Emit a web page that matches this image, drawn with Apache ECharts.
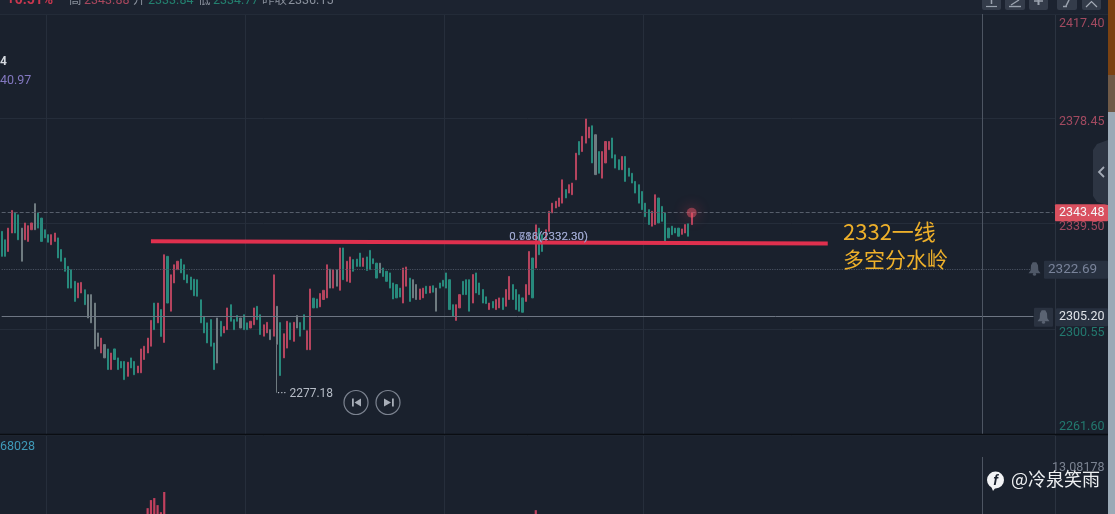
<!DOCTYPE html>
<html><head><meta charset="utf-8">
<style>html,body{margin:0;padding:0;background:#1a212d;overflow:hidden}#c{width:1115px;height:514px;filter:blur(0.4px)}</style>
<script src="https://cdn.jsdelivr.net/npm/echarts@6/dist/echarts.min.js"></script>
</head><body><div id="c"></div>
<script>
const highs = [
2336.6,2333.5,2337.8,2344.3,2343.6,2342.7,2337.8,2339.7,2338.7,2339.7,
2346.8,2343.4,2341.5,2337.2,2335.4,2335.4,2336,2334.2,2329.9,2326.8,
2323.7,2322.5,2318.2,2317.6,2317.8,2315.1,2313.3,2313.3,2310.2,2299.2,
2297.3,2294.9,2293.3,2291.8,2293.3,2290,2288.7,2288.7,2288.4,2290,
2288.7,2287,2293.3,2294.3,2297.3,2303.8,2310.2,2310.2,2307.8,2328,
2327.4,2320.6,2324.3,2325.6,2326.4,2324.3,2320.6,2319.8,2319,2318.8,
2311.4,2305.3,2302.9,2304.1,2295.5,2304.7,2303.5,2301.6,2308.4,2309.6,
2304.1,2305.6,2304.7,2305.9,2302.9,2303.5,2308.4,2309,2305.9,2302.2,
2303.1,2300.4,2320.6,2309,2303,2298.9,2303.5,2302.9,2303.1,2305.6,
2303,2305.9,2300,2315.4,2312,2311.7,2313.7,2314.9,2324.3,2322.7,
2322.5,2322.5,2330.5,2330.5,2325.6,2327.2,2326.2,2326.4,2328.6,2326.8,
2327.2,2329.6,2326.5,2324.9,2324.9,2323.1,2321.9,2321.3,2317.6,2317,
2315.7,2323.1,2323.5,2319.4,2318.8,2317,2315.4,2315.7,2316.4,2316.4,
2316.6,2315.7,2317.6,2318.6,2321.3,2318.8,2309.6,2309.6,2313.3,2318.2,
2318.8,2318.8,2320.7,2321.3,2317.6,2315.2,2312.5,2310.2,2310.8,2311.5,
2312.1,2312.1,2315.2,2320,2317,2315.2,2313.3,2312.1,2317,2329.2,
2326.8,2339,2337.8,2335.4,2337.2,2344,2347,2347.7,2348.9,2355.6,
2352,2353.8,2354.4,2365.4,2369.7,2371.6,2378,2375,2375.5,2372.2,
2366,2366,2369.7,2369.7,2371,2364.8,2363,2364.2,2364.2,2359.9,
2358,2355,2353.8,2351.3,2347,2344.6,2344,2350.1,2348.9,2345.8,
2343.4,2337.8,2338.5,2337.8,2337.8,2337.5,2339.1,2339.4,2343.48];
const lows = [
2327.4,2327.4,2329.2,2336,2336,2333.5,2325.6,2333.5,2332.9,2337.2,
2337.2,2337.8,2332.9,2334.2,2332.6,2331.7,2332.9,2326.8,2325.6,2321.9,
2315.7,2315.7,2310.8,2312.1,2313.9,2309.6,2304.7,2302.9,2293.3,2294.3,
2291.8,2290,2285.7,2285.7,2289.4,2285.7,2286.3,2282,2283.2,2286.3,
2283.8,2284.5,2284.5,2289.4,2291.8,2294.3,2300.4,2302.9,2297.9,2295.7,
2310.2,2307.2,2317.6,2322.5,2321.3,2318.8,2317.6,2315.1,2312.9,2312.7,
2302.9,2299.2,2295.5,2294.3,2285.7,2288.1,2298,2299.2,2300.4,2303.5,
2300.4,2303.5,2301,2300.4,2300.4,2301,2302.2,2304.1,2298.6,2298,
2299.2,2296.7,2298,2277.18,2283.5,2290,2293.6,2296.7,2296.1,2301,
2298,2300.4,2293,2293,2308.4,2308.4,2308.8,2311.5,2312.1,2315.7,
2315.7,2316.4,2314.9,2318.8,2318.2,2317.8,2321.9,2323.7,2323.7,2323.7,
2322.2,2322.5,2324.7,2319.4,2321.3,2320,2318.2,2315.7,2311.7,2312.1,
2312.4,2310.2,2316.4,2310.8,2312.1,2311.5,2311.5,2312.1,2313.7,2313.9,
2314.2,2307.2,2315.7,2316.4,2315.7,2307.8,2305.3,2303.8,2308.4,2313.3,
2313.3,2307.2,2310.2,2313.9,2313.3,2310.2,2310,2307.8,2308.4,2307.8,
2308.4,2307.8,2309,2311.5,2311.5,2307.8,2307.2,2306.8,2310.8,2313.3,
2312.1,2323.1,2328,2329.2,2332.3,2336.6,2343.4,2345.2,2345.8,2347,
2348.9,2350.7,2350.1,2355.6,2364.8,2366,2369.1,2371,2361.8,2357.5,
2358,2356.2,2361.8,2366.7,2363.6,2359.9,2359.3,2359.3,2355,2356.9,
2354.4,2350.7,2347,2344.6,2342,2339.1,2338.5,2339.1,2339.7,2340.3,
2332.9,2334.2,2335.4,2336,2334.8,2335.5,2336,2334.8,2339.1];
const directions =
 "DDUUDDGUUU"+"GDDDDUUDDD"+"DDDUUDGGGG"+"UGDUDDDDUD"+"DUUUUUDUDU"+
 "DUUUDDDDDD"+"DDDDDGDUUD"+"DDGDDUUDDU"+"UGUGDUUDUG"+"DDUUDDUUUG"+
 "UGUDUUDDDU"+"DDDDGDDDDD"+"DUUDGGUUDU"+"DGDDDDDUUD"+"DDUDDDDUDU"+
 "UDUUDDDDUU"+"DUDDUUUUUU"+"DUUUDUUUDG"+"DUUUDDDUDD"+"DDDDDDUUDD"+"DDDDDUUDU";
const bodyLowOverride = {83: 2295};
const volumeIndex = [44,45,46,47,48,49,161];
const volumeValue = [9.1,9.9,10.1,9.4,8.7,10.7,8.9];
const priceTicks = ["2261.60","2300.55","2339.50","2378.45","2417.40"];
const tickShift = [-8,4,3,4,12];
const volumeTick = 13.08178;
const priceMin = 2261.6, priceMax = 2417.4, priceStep = 38.95;
const lastPrice = 2343.48, alertPrice = 2322.69, markPrice = 2305.20, extremeLow = 2277.18;
const trendLine = [[45,2333.0],[249,2332.1]];
const gridlineSlots = [14,74,134,194];
const totalSlots = 318;

const FONT = 'Roboto, "Noto Sans CJK SC", sans-serif';
const UP='#b5445e', DOWN='#27897c', MUTED='#6f7b80';
const colorOf={U:UP,D:DOWN,G:MUTED};
const categories=[]; for(let i=0;i<totalSlots;i++) categories.push(String(i));

const candles=highs.map((h,i)=>{
  const d=directions[i], lo=lows[i], bl=bodyLowOverride[i]!==undefined?bodyLowOverride[i]:lo;
  const val=d==='U'?[bl,h,lo,h]:[h,bl,lo,h];
  const col=colorOf[d];
  return {value:val,itemStyle:{color:col,color0:col,borderColor:col,borderColor0:col,borderWidth:1}};
});
const volumes=categories.map(()=>null);
volumeIndex.forEach((ix,k)=>{volumes[ix]=volumeValue[k];});

const rich={};
priceTicks.forEach((t,i)=>{
  const s=tickShift[i];
  rich['s'+i]={color:i<2?'#23796f':'#a24a60',fontSize:12.5,fontFamily:FONT,
    padding:s>0?[2*s,0,0,0]:(s<0?[0,0,-2*s,0]:0)};
});
const hideLabel={show:false};
const chart=echarts.init(document.getElementById('c'),null,{renderer:'canvas'});
const xBase={type:'category',data:categories,boundaryGap:true,axisLine:{show:false},axisTick:{show:false},axisLabel:hideLabel,
  splitLine:{show:true,interval:(i)=>gridlineSlots.indexOf(i)>=0,lineStyle:{color:'#262e3b',width:1}}};
chart.setOption({
  animation:false,backgroundColor:'#1a212d',
  grid:[{left:0,width:1055,top:12,height:423,outerBoundsMode:'none'},{left:0,width:1055,top:436,height:164,outerBoundsMode:'none'}],
  xAxis:[Object.assign({gridIndex:0},xBase),Object.assign({gridIndex:1},xBase)],
  yAxis:[{gridIndex:0,type:'value',position:'right',min:priceMin,max:priceMax,interval:priceStep,
      axisLine:{show:true,lineStyle:{color:'#2b3340'}},axisTick:{show:false},
      axisLabel:{show:true,margin:4,showMinLabel:true,showMaxLabel:true,
        formatter:v=>{const k=Math.round((v-priceMin)/priceStep);return '{s'+k+'|'+priceTicks[k]+'}';},rich},
      splitLine:{show:true,lineStyle:{color:'#252d3a'}}},
    {gridIndex:1,type:'value',position:'right',min:0,max:16.25,interval:volumeTick,
      axisLine:{show:true,lineStyle:{color:'#2b3340'}},axisTick:{show:false},
      axisLabel:{margin:-3,color:'#7b8391',fontSize:12.5,fontFamily:FONT,
        formatter:v=>Math.abs(v-volumeTick)<1e-6?volumeTick.toFixed(5):''},
      splitLine:{show:false}}],
  series:[
   {type:'candlestick',xAxisIndex:0,yAxisIndex:0,barWidth:1.6,data:candles,large:false,progressive:0,silent:true,clip:true,z:3,
    markLine:{silent:true,symbol:'none',precision:2,label:{show:false},animation:false,data:[
      [{coord:['0',lastPrice],lineStyle:{color:'#565e6b',type:'dashed',width:1}},{coord:['317',lastPrice]}],
      [{coord:['0',alertPrice],lineStyle:{color:'#4a5261',type:'dotted',width:1.2}},{coord:['310',alertPrice]}],
      [{coord:['0',markPrice],lineStyle:{color:'#6e7683',type:'solid',width:1}},{coord:['311',markPrice]}],
      [{coord:[String(trendLine[0][0]),trendLine[0][1]],lineStyle:{color:'#e0304e',type:'solid',width:4}},
       {coord:[String(trendLine[1][0]),trendLine[1][1]]}]
    ]},
    markPoint:{silent:true,symbol:'circle',symbolSize:0,animation:false,data:[
      {coord:['83',extremeLow],label:{show:true,position:'right',offset:[0,1.5],distance:0,formatter:'··· '+extremeLow.toFixed(2),color:'#b6bcc6',fontSize:12,fontFamily:FONT}},
      {coord:['153',2334.5],label:{show:true,position:'inside',align:'left',formatter:'0.618(2332.30)',color:'#8e97c4',fontSize:11.5,fontFamily:FONT}},
      {coord:['153',2334.5],label:{show:true,position:'inside',align:'left',formatter:'0.786(2332.30)',color:'#9aa3c8',fontSize:11.5,fontFamily:FONT}}
    ]}},
   {type:'scatter',xAxisIndex:0,yAxisIndex:0,silent:true,z:6,data:[['208',lastPrice]],symbolSize:10,
    itemStyle:{color:'rgba(240,85,105,0.6)',shadowBlur:14,shadowColor:'rgba(235,70,90,1)'}},
   {type:'bar',xAxisIndex:1,yAxisIndex:1,data:volumes,barWidth:2.2,silent:true,itemStyle:{color:'#c2405e'}}
  ]
});

const yOf=p=>chart.convertToPixel({yAxisIndex:0},p);
const T=(text,x,y,fill,font,align,va,z)=>({type:'text',silent:true,z:z||20,style:{text,x,y,fill,font:font||('12.5px '+FONT),textAlign:align||'left',textVerticalAlign:va||'middle'}});
const R=(x,y,w,h,fill,r,z)=>({type:'rect',silent:true,z:z||15,shape:{x,y,width:w,height:h,r:r||0},style:{fill}});
const L=(x1,y1,x2,y2,stroke,w,z)=>({type:'line',silent:true,z:z||16,shape:{x1,y1,x2,y2},style:{stroke,lineWidth:w||1}});
const bell=(cx,cy,fill)=>[
  {type:'polygon',silent:true,z:18,shape:{points:[[cx-6,cy+5],[cx-3.8,cy+2],[cx-3.5,cy-3],[cx-1.8,cy-6],[cx+1.8,cy-6],[cx+3.5,cy-3],[cx+3.8,cy+2],[cx+6,cy+5]]},style:{fill}},
  {type:'circle',silent:true,z:18,shape:{cx:cx,cy:cy+6,r:1.6},style:{fill}}];
const yL=yOf(lastPrice), yA=yOf(alertPrice), yM=yOf(markPrice);
const els=[
  R(0,0,1108,14,'#1c2330',0,1),
  L(0,14.5,1108,14.5,'#232b38',1,2),
  T('+0.51%',7,7,'#c8374f','bold 14px '+FONT,'left','bottom'),
  T('高',69,7,'#8a919d',null,'left','bottom'),
  T('2343.88',84,7,'#a8475d',null,'left','bottom'),
  T('开',133,7,'#8a919d',null,'left','bottom'),
  T('2333.84',148,7,'#23806f',null,'left','bottom'),
  T('低',198,7,'#8a919d',null,'left','bottom'),
  T('2334.77',213,7,'#23806f',null,'left','bottom'),
  T('昨收',262,7,'#8a919d',null,'left','bottom'),
  T('2336.15',288,7,'#8a919d',null,'left','bottom'),
  T('4',0,62,'#d5d9df','bold 12px '+FONT),
  T('40.97',0,81,'#8378c0','12.5px '+FONT),
  T('68028',0,447,'#3f9ab8','12.5px '+FONT),
  R(982,-4,19,14,'#343c4a',2), R(1005,-4,20,14,'#343c4a',2), R(1029,-4,19,14,'#343c4a',2), R(1057,-4,20,14,'#343c4a',2), R(1082,-4,19,14,'#343c4a',2),
  L(986,6.5,997,6.5,'#9aa2ae',1.2,17), L(991.5,0,991.5,4,'#9aa2ae',1.5,17),
  L(1009,6.5,1021,6.5,'#9aa2ae',1.4,17), L(1011,5,1019,0,'#9aa2ae',1.4,17),
  L(1034,1,1043,1,'#9aa2ae',1.5,17), L(1038.5,0,1038.5,5,'#9aa2ae',2,17),
  L(1066,6,1069,0,'#9aa2ae',1.5,17), L(1063,6.5,1067,6.5,'#9aa2ae',1.5,17),
  {type:'polyline',silent:true,z:17,shape:{points:[[1086,7],[1091.5,1.5],[1097,7]]},style:{stroke:'#a4abb6',lineWidth:1.2,fill:'none'}},
  L(0,434.5,1108,434.5,'#0a0d12',1.4,12),
  L(982.5,14,982.5,434,'#4d5562',1,5), L(982.5,457,982.5,514,'#4d5562',1,5),
  R(1108,0,7,75,'#7b4212',0,30), R(1108,75,7,37,'#6f5a48',0,30), R(1108,112,7,402,'#9ba9b6',0,30),
  {type:'polygon',silent:true,z:25,shape:{points:[[1108,140],[1097,144],[1093,150],[1093,196],[1097,202],[1108,205]]},style:{fill:'#2d3543'}},
  {type:'polyline',silent:true,z:26,shape:{points:[[1104,167],[1099,172],[1104,177]]},style:{stroke:'#a3aab6',lineWidth:1.8,fill:'none'}},
  R(1055,yL-8.5,53,17,'#d9505f',1,19),
  T(lastPrice.toFixed(2),1059,yL,'#f4f5f7','12.5px '+FONT,'left','middle',21),
  R(1044,yA-8.5,64,18,'#283140',1,19),
  T(alertPrice.toFixed(2),1048,yA+0.5,'#79839a','13.5px '+FONT,'left','middle',21),
  ...bell(1034.5,yA-1,'#4f5867'),
  R(1034,yM-9,19,19,'#2a3240',1,17),
  ...bell(1043.5,yM-0.5,'#5a6372'),
  R(1056,yM-8.5,52,18,'#283140',1,19),
  T(markPrice.toFixed(2),1059,yM,'#dfe3e8','12.5px '+FONT,'left','middle',21),
  {type:'circle',silent:true,z:22,shape:{cx:356,cy:402.5,r:12},style:{fill:'#1c232f',stroke:'#7c8390',lineWidth:1.2}},
  {type:'circle',silent:true,z:22,shape:{cx:388,cy:402.5,r:12},style:{fill:'#1c232f',stroke:'#7c8390',lineWidth:1.2}},
  R(352,398.5,1.8,8,'#a8aeb8',0,23),{type:'polygon',silent:true,z:23,shape:{points:[[361,398.5],[361,406.5],[354.5,402.5]]},style:{fill:'#a8aeb8'}},
  R(392,398.5,1.8,8,'#a8aeb8',0,23),{type:'polygon',silent:true,z:23,shape:{points:[[384,398.5],[384,406.5],[391,402.5]]},style:{fill:'#a8aeb8'}},
  T('2332一线',843,232,'#eeb02a','22px "Noto Sans CJK SC", sans-serif','left','middle',22),
  T('多空分水岭',843,259,'#eeb02a','21px "Noto Sans CJK SC", sans-serif','left','middle',22),
  {type:'circle',silent:true,z:32,shape:{cx:995.5,cy:480,r:8.5},style:{fill:'#f2f3f5'}},
  {type:'polygon',silent:true,z:32,shape:{points:[[991,486],[996,487],[993,491]]},style:{fill:'#f2f3f5'}},
  T('f',995.5,481,'#1a212d','italic bold 14px "Liberation Sans", sans-serif','center','middle',33),
  T('@冷泉笑雨',1011,479,'#eef0f2','18px "Noto Sans CJK SC", sans-serif','left','middle',33)
];
chart.setOption({graphic:{elements:els}});
</script></body></html>
